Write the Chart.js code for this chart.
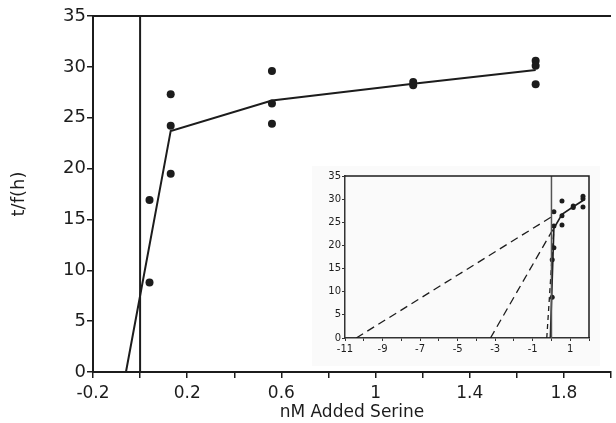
<!DOCTYPE html>
<html>
<head>
<meta charset="utf-8">
<script src="https://cdn.jsdelivr.net/npm/chart.js@4.4.1/dist/chart.umd.min.js"></script>
<style>
  html, body { margin: 0; padding: 0; background: #fff; }
  #wrap { position: relative; width: 616px; height: 423px; }
  #mainChart { position: absolute; left: 0; top: 0; }
  #insetChart { position: absolute; left: 312px; top: 166px; }
</style>
</head>
<body>
<div id="wrap">
  <canvas id="mainChart" width="616" height="423"></canvas>
  <canvas id="insetChart" width="288" height="200"></canvas>
</div>
<script>
// measured points: nM added serine vs t/f (h)
const serineX = [0.04, 0.04, 0.13, 0.13, 0.13, 0.56, 0.56, 0.56, 1.16, 1.16, 1.68, 1.68, 1.68];
const tfValues = [16.9, 8.8, 27.3, 24.2, 19.5, 29.6, 26.4, 24.4, 28.5, 28.2, 30.6, 30.1, 28.3];

// solid fitted line
const fitX = [-0.06, 0.13, 0.56, 1.16, 1.68];
const fitY = [0, 23.7, 26.7, 28.35, 29.7];

// inset dashed extrapolations (x intercept -> end)
const dashLongX = [-10.4, 0.05];
const dashLongY = [0, 26.3];
const dashMidX = [-3.25, 0.1];
const dashMidY = [0, 23.6];
const dashSteepX = [-0.25, 0.12];
const dashSteepY = [0, 23];

// x = 0 reference line
const refX = [0, 0];
const refY = [0, 35];

// tick labels
const mainTickLabels = ['-0.2', '0.2', '0.6', '1', '1.4', '1.8'];
const insetTickLabels = ['-11', '-9', '-7', '-5', '-3', '-1', '1'];

const ink = '#1c1c1c';
const font = 'DejaVu Sans';

function pts(xs, ys) {
  return xs.map((x, i) => ({ x: x, y: ys[i] }));
}

// frame lines not covered by the axes
const framePlugin = {
  id: 'frame',
  beforeDraw(chart, args, opts) {
    if (opts.bg) {
      const ctx = chart.ctx;
      ctx.save();
      ctx.fillStyle = opts.bg;
      ctx.fillRect(0, 0, chart.width, chart.height);
      ctx.restore();
    }
  },
  afterDraw(chart, args, opts) {
    const { ctx, chartArea: a } = chart;
    ctx.save();
    ctx.strokeStyle = ink;
    ctx.lineWidth = opts.width || 2;
    ctx.beginPath();
    ctx.moveTo(a.left, a.top);
    ctx.lineTo(a.right, a.top);
    if (opts.right) {
      ctx.lineTo(a.right, a.bottom);
    }
    ctx.stroke();
    ctx.restore();
  }
};

// main chart
new Chart(document.getElementById('mainChart'), {
  type: 'scatter',
  data: {
    datasets: [
      {
        data: pts(refX, refY),
        showLine: true,
        borderColor: ink,
        borderWidth: 2,
        pointRadius: 0
      },
      {
        data: pts(fitX, fitY),
        showLine: true,
        borderColor: ink,
        borderWidth: 2,
        pointRadius: 0
      },
      {
        data: pts(serineX, tfValues),
        backgroundColor: ink,
        borderColor: ink,
        pointRadius: 4,
        borderWidth: 0
      }
    ]
  },
  options: {
    responsive: false,
    animation: false,
    devicePixelRatio: 1,
    layout: { padding: { top: 16, right: 0, left: 0, bottom: 0 } },
    plugins: {
      legend: { display: false },
      tooltip: { enabled: false },
      frame: { width: 2 }
    },
    scales: {
      x: {
        type: 'linear',
        min: -0.2,
        max: 2.0,
        afterFit: (s) => { s.height = 51; },
        border: { color: ink, width: 2 },
        grid: { drawOnChartArea: false, color: ink, lineWidth: 1.5, tickLength: 6 },
        ticks: {
          stepSize: 0.2,
          autoSkip: false,
          maxRotation: 0,
          padding: 5,
          color: ink,
          font: { family: font, size: 17 },
          callback: (v) => {
            const s = String(Math.round(v * 10) / 10);
            return mainTickLabels.includes(s) ? s : '';
          }
        },
        title: {
          display: true,
          text: 'nM Added Serine',
          color: ink,
          font: { family: font, size: 17 },
          padding: { top: 0, bottom: 0 }
        }
      },
      y: {
        min: 0,
        max: 35,
        afterFit: (s) => { s.width = 93; },
        border: { color: ink, width: 2 },
        grid: { drawOnChartArea: false, color: ink, lineWidth: 1.5, tickLength: 6 },
        ticks: {
          stepSize: 5,
          padding: 1,
          color: ink,
          font: { family: font, size: 18 }
        },
        title: {
          display: true,
          text: 't/f(h)',
          color: ink,
          font: { family: font, size: 18 },
          padding: { top: 9, bottom: 0 }
        }
      }
    }
  },
  plugins: [framePlugin]
});

// inset chart
new Chart(document.getElementById('insetChart'), {
  type: 'scatter',
  data: {
    datasets: [
      {
        data: pts(refX, refY),
        showLine: true,
        borderColor: '#555',
        borderWidth: 1.5,
        pointRadius: 0
      },
      {
        data: pts(dashLongX, dashLongY),
        showLine: true,
        borderColor: ink,
        borderWidth: 1.3,
        borderDash: [8, 5],
        pointRadius: 0
      },
      {
        data: pts(dashMidX, dashMidY),
        showLine: true,
        borderColor: ink,
        borderWidth: 1.3,
        borderDash: [8, 5],
        pointRadius: 0
      },
      {
        data: pts(dashSteepX, dashSteepY),
        showLine: true,
        borderColor: ink,
        borderWidth: 1.3,
        borderDash: [5, 4],
        pointRadius: 0
      },
      {
        data: pts(fitX, fitY),
        showLine: true,
        borderColor: ink,
        borderWidth: 1.6,
        pointRadius: 0
      },
      {
        data: pts(serineX, tfValues),
        backgroundColor: ink,
        borderColor: ink,
        pointRadius: 2.5,
        borderWidth: 0
      }
    ]
  },
  options: {
    responsive: false,
    animation: false,
    devicePixelRatio: 1,
    layout: { padding: { top: 10, right: 11, left: 0, bottom: 0 } },
    plugins: {
      legend: { display: false },
      tooltip: { enabled: false },
      frame: { width: 1.5, right: true, bg: '#fafafa' }
    },
    scales: {
      x: {
        type: 'linear',
        min: -11,
        max: 2,
        afterFit: (s) => { s.height = 28; },
        border: { color: '#333', width: 1.5 },
        grid: { drawOnChartArea: false, color: '#333', lineWidth: 1, tickLength: 3 },
        ticks: {
          stepSize: 1,
          autoSkip: false,
          maxRotation: 0,
          padding: 2,
          color: ink,
          font: { family: font, size: 10 },
          callback: (v) => {
            const s = String(Math.round(v));
            return insetTickLabels.includes(s) ? s : '';
          }
        }
      },
      y: {
        min: 0,
        max: 35,
        afterFit: (s) => { s.width = 33; },
        border: { color: '#333', width: 1.5 },
        grid: { drawOnChartArea: false, color: '#333', lineWidth: 1, tickLength: 3 },
        ticks: {
          stepSize: 5,
          padding: 1,
          color: ink,
          font: { family: font, size: 10 }
        }
      }
    }
  },
  plugins: [framePlugin]
});
</script>
</body>
</html>
